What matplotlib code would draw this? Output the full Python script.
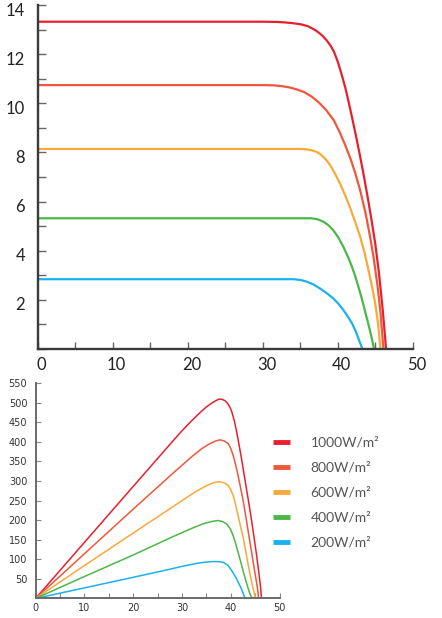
import matplotlib
matplotlib.use('Agg')
import matplotlib.pyplot as plt
from matplotlib.lines import Line2D
from matplotlib.ticker import MultipleLocator
from matplotlib.transforms import ScaledTranslation

# Irradiance levels and colours
labels = ['1000W/m²', '800W/m²', '600W/m²', '400W/m²', '200W/m²']
colors = ['#E8202E', '#F1573A', '#F9A93A', '#4BB846', '#1AB2EE']

# I-V curves (voltage V, current A)
iv_v_1000 = [0, 30, 32, 33, 34, 35, 36, 37, 37.5, 38, 38.5, 39, 39.5, 40, 40.5, 41, 41.5, 42,
             42.5, 43, 43.5, 44, 44.5, 45, 45.5, 46, 46.45]
iv_i_1000 = [13.32, 13.32, 13.31, 13.29, 13.26, 13.22, 13.14, 12.98, 12.87, 12.74, 12.57, 12.37,
             12.1, 11.7, 11.2, 10.65, 10.0, 9.3, 8.58, 7.82, 7.02, 6.17, 5.27, 4.3, 3.1, 1.6, 0]
iv_v_800 = [0, 30, 31.5, 32.5, 33.5, 34.5, 35.5, 36.5, 37.5, 38.5, 39.5, 40.3, 41, 41.7, 42.3,
            43, 43.7, 44.3, 44.8, 45.3, 45.7, 46.1]
iv_i_800 = [10.74, 10.74, 10.73, 10.70, 10.65, 10.57, 10.46, 10.28, 10.03, 9.71, 9.30, 8.8,
            8.3, 7.75, 7.2, 6.45, 5.55, 4.6, 3.7, 2.6, 1.5, 0]
iv_v_600 = [0, 35, 35.8, 36.5, 37.2, 37.8, 38.4, 39, 39.6, 40.3, 41, 41.6, 42.3, 43, 43.6, 44.1,
            44.6, 45, 45.4, 45.7]
iv_i_600 = [8.14, 8.14, 8.13, 8.09, 8.02, 7.9, 7.72, 7.48, 7.16, 6.74, 6.25, 5.79, 5.2, 4.57,
            3.9, 3.22, 2.5, 1.86, 1.0, 0]
iv_v_400 = [0, 36.5, 37.3, 38.1, 38.8, 39.4, 40.1, 40.75, 41.3, 41.9, 42.35, 42.75, 43.2, 43.6,
            44.1, 44.5, 44.85]
iv_i_400 = [5.32, 5.32, 5.28, 5.18, 5.03, 4.84, 4.53, 4.16, 3.8, 3.35, 2.95, 2.54, 2.07, 1.59,
            1.0, 0.5, 0]
iv_v_200 = [0, 34.1, 35, 35.9, 36.8, 37.6, 38.5, 39.4, 40.1, 40.75, 41.3, 41.9, 42.35, 42.75,
            43.05, 43.3]
iv_i_200 = [2.84, 2.84, 2.81, 2.74, 2.62, 2.47, 2.28, 2.06, 1.84, 1.59, 1.34, 1.05, 0.76, 0.44,
            0.2, 0]

# P-V curves (voltage V, power W)
pv_v_1000 = [0, 10, 20, 28, 30, 31, 32, 33, 34, 35, 36, 36.8, 37.6, 38.2, 38.8, 39.3, 39.8, 40.2,
             40.7, 41.2, 41.7, 42.2, 42.7, 43.2, 43.8, 44.3, 44.8, 45.3, 45.7, 46.1, 46.3]
pv_p_1000 = [0, 143, 286, 400, 428, 441, 454, 466, 478, 489, 498, 504, 509, 508.5, 505, 499, 489,
             477, 455, 426, 392, 357, 319, 281, 236, 196, 153, 110, 71, 30, 0]
pv_v_800 = [0, 10, 20, 28, 30, 32, 33, 34, 35, 36, 36.9, 37.8, 38.7, 39.5, 40, 40.5, 41, 41.5,
            42, 42.6, 43.1, 43.6, 44.1, 44.6, 45.1, 45.5, 45.7]
pv_p_800 = [0, 114, 228, 318, 340, 362, 372, 382, 390, 397, 402, 405, 402, 395, 383, 365, 341,
            314, 283, 246, 208, 169, 131, 92, 55, 24, 0]
pv_v_600 = [0, 10, 20, 28, 30, 32, 33, 34, 35, 36, 36.9, 37.8, 38.7, 39.5, 40, 40.5, 41, 41.5,
            42, 42.6, 43.1, 43.6, 44.1, 44.6, 45.1]
pv_p_600 = [0, 84, 167, 233, 250, 266, 274, 281, 288, 293, 297, 298, 295, 288, 277, 263, 240,
            212, 184, 152, 118, 84, 52, 24, 0]
pv_v_400 = [0, 10, 20, 28, 30, 32, 33, 34, 35, 36.3, 37.4, 38.3, 39.2, 39.9, 40.5, 41, 41.5, 42,
            42.6, 43.1, 43.6, 44, 44.4]
pv_p_400 = [0, 56, 111, 157, 168, 179, 184, 189, 193, 197, 199, 196.5, 190, 178, 160, 140, 118,
            95, 67, 45, 24, 10, 0]
pv_v_200 = [0, 10, 20, 28, 30, 32, 33, 34, 35, 36, 36.8, 37.7, 38.5, 39.4, 40.2, 40.7, 41.2,
            41.7, 42.2, 42.6, 42.9]
pv_p_200 = [0, 27, 54, 76, 82, 87, 89.5, 91.5, 93, 94, 94.3, 93.8, 92, 85, 71, 61, 50, 37, 24,
            11, 0]

iv_curves = [(iv_v_1000, iv_i_1000), (iv_v_800, iv_i_800), (iv_v_600, iv_i_600),
             (iv_v_400, iv_i_400), (iv_v_200, iv_i_200)]
pv_curves = [(pv_v_1000, pv_p_1000), (pv_v_800, pv_p_800), (pv_v_600, pv_p_600),
             (pv_v_400, pv_p_400), (pv_v_200, pv_p_200)]

plt.rcParams['font.family'] = ['Lato', 'DejaVu Sans']

fig = plt.figure(figsize=(4.42, 6.18), dpi=100)

# --- I-V chart (top) ---
ax1 = fig.add_axes([0.0853, 0.4353, 0.8484, 0.5566])
for (v, i), c in zip(iv_curves, colors):
    ax1.plot(v, i, color=c, linewidth=1.6, solid_joinstyle='round')
ax1.set_xlim(0, 50)
ax1.set_ylim(0, 14)
ax1.set_xticks([0, 10, 20, 30, 40, 50])
ax1.xaxis.set_minor_locator(MultipleLocator(5))
ax1.set_yticks([2, 4, 6, 8, 10, 12, 14])
ax1.yaxis.set_minor_locator(MultipleLocator(1))
for s in ['top', 'right']:
    ax1.spines[s].set_visible(False)
for s in ['left', 'bottom']:
    ax1.spines[s].set_color('#3a3a3a')
    ax1.spines[s].set_linewidth(1.7)
ax1.tick_params(axis='both', which='both', direction='in', color='#666666', width=1.0)
ax1.tick_params(axis='y', which='both', length=6, labelsize=12, labelcolor='#222222', pad=9)
ax1.tick_params(axis='x', which='both', length=5, labelsize=12, labelcolor='#222222', pad=6)
# labels in the original sit a little right of / below their ticks
shift_x = ScaledTranslation(4 / 100, 0, fig.dpi_scale_trans)
shift_y = ScaledTranslation(0, -4 / 100, fig.dpi_scale_trans)
for lab in ax1.get_xticklabels():
    lab.set_transform(lab.get_transform() + shift_x)
for lab in ax1.get_yticklabels():
    lab.set_transform(lab.get_transform() + shift_y)

# --- P-V chart (bottom) ---
ax2 = fig.add_axes([0.0805, 0.0316, 0.552, 0.3492])
for (v, p), c in zip(pv_curves, colors):
    ax2.plot(v, p, color=c, linewidth=1.1, solid_joinstyle='round')
ax2.set_xlim(0, 50)
ax2.set_ylim(0, 551)
ax2.xaxis.set_major_locator(MultipleLocator(10))
ax2.xaxis.set_minor_locator(MultipleLocator(5))
ax2.set_yticks(list(range(50, 551, 50)))
for s in ['top', 'right']:
    ax2.spines[s].set_visible(False)
for s in ['left', 'bottom']:
    ax2.spines[s].set_color('#6a6a6a')
    ax2.spines[s].set_linewidth(1.4)
ax2.tick_params(axis='both', which='both', direction='in', color='#888888', width=0.8,
                length=3.5, labelsize=7, labelcolor='#333333')
ax2.tick_params(axis='y', pad=6)
ax2.tick_params(axis='x', pad=3)
for lab in ax2.get_xticklabels() + ax2.get_yticklabels():
    lab.set_family('DejaVu Sans')

handles = [Line2D([0], [0], color=c, linewidth=3.5, solid_capstyle='butt') for c in colors]
leg = fig.legend(handles, labels, loc='upper left', bbox_to_anchor=(0.605, 0.302),
                 frameon=False, fontsize=10, handlelength=1.2, handletextpad=1.5,
                 labelspacing=0.93, borderaxespad=0)
for t in leg.get_texts():
    t.set_color('#555555')

fig.savefig('out.png', dpi=100)
